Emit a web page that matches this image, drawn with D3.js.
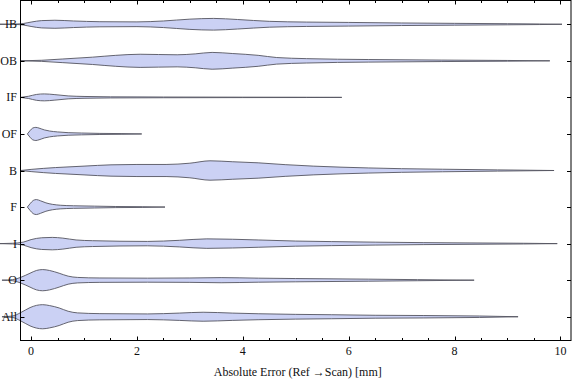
<!DOCTYPE html>
<html>
<head>
<meta charset="utf-8">
<script src="https://cdn.jsdelivr.net/npm/d3@7/dist/d3.min.js"></script>
<style>
html,body{margin:0;padding:0;background:#fff;}
svg{display:block;}
text{font-family:"Liberation Serif","Times New Roman",serif;fill:#111;}
</style>
</head>
<body>
<svg id="chart" width="576" height="381"></svg>
<script>
// Categories from top to bottom
const categories = ["IB","OB","IF","OF","B","F","I","O","All"];
// Density profiles: [absolute error (mm), half-width in category units]
const violinIB = [[-0.59,0],[-0.3,0.005],[-0.15,0.02],[0,0.06],[0.2,0.1],[0.45,0.11],[0.8,0.09],[1.3,0.07],[2.0,0.065],[2.5,0.09],[3.0,0.14],[3.45,0.16],[3.9,0.13],[4.5,0.08],[5.2,0.06],[6.0,0.05],[7.0,0.035],[8.0,0.025],[9.0,0.015],[9.6,0.008],[10.03,0]];
const violinOB = [[-0.19,0],[0.2,0.015],[0.6,0.05],[1.16,0.1],[1.6,0.15],[2.06,0.18],[2.76,0.165],[3.1,0.19],[3.42,0.23],[3.8,0.2],[4.29,0.15],[4.64,0.09],[5.2,0.06],[6.38,0.035],[7.76,0.02],[9.0,0.01],[9.8,0]];
const violinIF = [[-0.2,0],[-0.05,0.03],[0.1,0.08],[0.25,0.095],[0.45,0.075],[0.7,0.04],[1.0,0.025],[1.5,0.015],[2.5,0.01],[4.0,0.006],[5.2,0.004],[5.87,0]];
const violinOF = [[-0.07,0],[-0.02,0.09],[0.03,0.16],[0.09,0.18],[0.15,0.16],[0.25,0.11],[0.35,0.08],[0.5,0.055],[0.7,0.035],[0.95,0.025],[1.3,0.015],[1.7,0.01],[2.09,0]];
const violinB = [[-0.2,0],[0,0.03],[0.46,0.08],[1.0,0.12],[1.51,0.155],[2.0,0.165],[2.55,0.165],[3.0,0.2],[3.38,0.265],[3.8,0.24],[4.29,0.21],[4.8,0.16],[5.33,0.12],[6.38,0.07],[7.0,0.05],[7.77,0.035],[8.81,0.017],[9.88,0]];
const violinF = [[-0.07,0],[-0.02,0.09],[0.04,0.18],[0.1,0.205],[0.18,0.17],[0.28,0.115],[0.4,0.075],[0.55,0.05],[0.8,0.035],[1.2,0.025],[1.6,0.015],[2.1,0.01],[2.53,0]];
const violinI = [[-0.59,0],[-0.35,0.01],[-0.15,0.04],[0.0,0.11],[0.2,0.16],[0.4,0.17],[0.6,0.15],[0.85,0.1],[1.16,0.08],[2.2,0.06],[2.8,0.09],[3.32,0.13],[4.29,0.1],[5.0,0.07],[5.68,0.055],[6.5,0.04],[7.42,0.027],[8.5,0.017],[9.3,0.01],[9.94,0]];
const violinO = [[-0.55,0],[-0.35,0.015],[-0.2,0.075],[-0.02,0.19],[0.1,0.265],[0.22,0.29],[0.35,0.265],[0.53,0.19],[0.7,0.11],[0.88,0.075],[1.3,0.06],[2.2,0.055],[3.0,0.06],[3.59,0.07],[4.3,0.055],[4.99,0.045],[6.38,0.028],[7.3,0.015],[8.37,0]];
const violinAll = [[-0.55,0],[-0.35,0.02],[-0.2,0.11],[-0.02,0.25],[0.1,0.31],[0.22,0.33],[0.35,0.305],[0.53,0.24],[0.7,0.15],[0.88,0.105],[1.3,0.085],[2.2,0.077],[2.8,0.1],[3.25,0.123],[3.8,0.1],[4.29,0.082],[5.0,0.065],[5.68,0.055],[6.5,0.04],[7.42,0.033],[8.47,0.02],[9.2,0]];
const profiles = [violinIB, violinOB, violinIF, violinOF, violinB, violinF, violinI, violinO, violinAll];
const xMajorTicks = [0,2,4,6,8,10];
const xMinorTicks = [0.5,1,1.5,2.5,3,3.5,4.5,5,5.5,6.5,7,7.5,8.5,9,9.5];
const xTitle = "Absolute Error (Ref \u2192Scan) [mm]";

const svg = d3.select("#chart");
const plotL = 20.5, plotR = 571, plotT = 0.5, plotB = 340.5;
const x = d3.scaleLinear().domain([-0.2, 10.2]).range([plotL, plotR]);
// category index: IB = 9 at top, All = 1 at bottom
const y = d3.scaleLinear().domain([0.35, 9.65]).range([plotB, plotT]);
const catPos = (i) => categories.length - i;

// violins
const area = d3.area()
  .x(d => x(d[0]))
  .curve(d3.curveMonotoneX);
const gV = svg.append("g");
profiles.forEach((prof, i) => {
  const c = catPos(i);
  area.y0(d => y(c - d[1])).y1(d => y(c + d[1]));
  gV.append("path")
    .attr("d", area(prof))
    .attr("fill", "#cbd1f4")
    .attr("stroke", "#555560")
    .attr("stroke-width", 0.9)
    .attr("stroke-linejoin", "round");
});

// frame
svg.append("rect")
  .attr("x", plotL).attr("y", plotT)
  .attr("width", plotR - plotL).attr("height", plotB - plotT)
  .attr("fill", "none").attr("stroke", "#000").attr("stroke-width", 1);

// bottom / top ticks
const gT = svg.append("g").attr("stroke", "#000").attr("stroke-width", 1);
xMajorTicks.forEach(v => {
  const px = Math.round(x(v)) + 0.5;
  gT.append("line").attr("x1", px).attr("x2", px).attr("y1", plotB).attr("y2", plotB - 4);
  gT.append("line").attr("x1", px).attr("x2", px).attr("y1", plotT).attr("y2", plotT + 4);
});
xMinorTicks.forEach(v => {
  const px = Math.round(x(v)) + 0.5;
  gT.append("line").attr("x1", px).attr("x2", px).attr("y1", plotB).attr("y2", plotB - 2.5);
  gT.append("line").attr("x1", px).attr("x2", px).attr("y1", plotT).attr("y2", plotT + 2.5);
});
// left / right ticks at categories
categories.forEach((cat, i) => {
  const py = Math.round(y(catPos(i))) + 0.5;
  gT.append("line").attr("x1", plotL).attr("x2", plotL + 4).attr("y1", py).attr("y2", py);
  gT.append("line").attr("x1", plotR).attr("x2", plotR - 4).attr("y1", py).attr("y2", py);
});

// tick labels
svg.append("g").selectAll("text").data(xMajorTicks).join("text")
  .attr("x", d => x(d)).attr("y", 355)
  .attr("text-anchor", "middle").attr("font-size", 12)
  .text(d => d);
svg.append("g").selectAll("text").data(categories).join("text")
  .attr("x", 17).attr("y", (d, i) => y(catPos(i)) + 4)
  .attr("text-anchor", "end").attr("font-size", 12)
  .text(d => d);

// axis title
svg.append("text")
  .attr("x", (plotL + plotR) / 2 + 2).attr("y", 376)
  .attr("text-anchor", "middle").attr("font-size", 12)
  .text(xTitle);
</script>
</body>
</html>
